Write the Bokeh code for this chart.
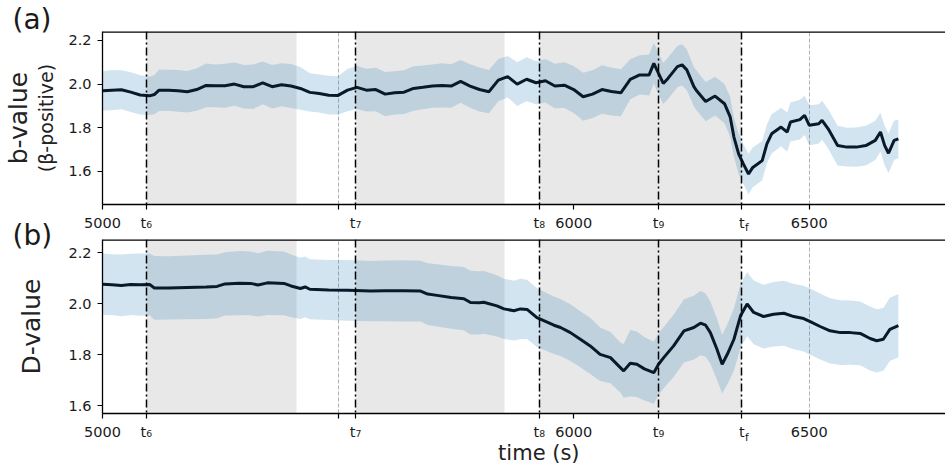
import math
from bokeh.plotting import figure
from bokeh.models import (FixedTicker, Label, Range1d, PrintfTickFormatter, Title)
from bokeh.layouts import column
from bokeh.embed import file_html
from bokeh.resources import INLINE
from bokeh.core.properties import value

FONT = "DejaVu Sans"

# ---------------- data ----------------
t_b = [5000, 5020, 5040, 5060, 5080, 5100, 5110, 5120, 5140, 5160, 5180, 5200, 5220, 5240,
       5260, 5280, 5300, 5320, 5340, 5360, 5380, 5400, 5420, 5440, 5460, 5480, 5500, 5520,
       5540, 5560, 5580, 5600, 5620, 5640, 5660, 5680, 5700, 5720, 5740, 5760, 5780, 5800,
       5820, 5840, 5860, 5880, 5900, 5920, 5940, 5960, 5980, 6000, 6020, 6040, 6060, 6080,
       6100, 6120, 6140, 6160, 6170, 6180, 6190, 6200, 6220, 6230, 6240, 6255, 6260, 6280,
       6300, 6320, 6332, 6340, 6350, 6360, 6371, 6380, 6400, 6410, 6420, 6440, 6453, 6460,
       6480, 6490, 6500, 6520, 6527, 6540, 6560, 6580, 6600, 6620, 6640, 6651, 6660, 6668,
       6680, 6689]
b_val = [1.969, 1.972, 1.974, 1.963, 1.950, 1.946, 1.952, 1.972, 1.972, 1.969, 1.965, 1.975,
         1.994, 1.992, 1.992, 2.000, 1.988, 1.988, 2.006, 1.988, 1.997, 1.991, 1.980, 1.962,
         1.957, 1.949, 1.948, 1.972, 1.985, 1.972, 1.975, 1.954, 1.960, 1.963, 1.980, 1.985,
         1.991, 1.994, 1.991, 2.012, 1.991, 1.975, 1.965, 2.018, 2.034, 2.000, 2.022, 2.006,
         2.015, 1.991, 1.995, 1.975, 1.942, 1.954, 1.975, 1.966, 1.960, 2.022, 2.042, 2.042,
         2.095, 2.049, 2.003, 2.026, 2.080, 2.088, 2.065, 1.988, 1.972, 1.920, 1.945, 1.910,
         1.850, 1.757, 1.680, 1.634, 1.588, 1.618, 1.649, 1.726, 1.772, 1.803, 1.780, 1.826,
         1.837, 1.857, 1.811, 1.818, 1.834, 1.795, 1.718, 1.711, 1.711, 1.718, 1.742, 1.780,
         1.718, 1.683, 1.742, 1.749]
b_err = [0.090, 0.092, 0.089, 0.091, 0.090, 0.088, 0.090, 0.095, 0.094, 0.096, 0.095, 0.097,
         0.100, 0.098, 0.101, 0.099, 0.100, 0.102, 0.098, 0.100, 0.099, 0.101, 0.098, 0.088,
         0.087, 0.089, 0.088, 0.097, 0.099, 0.098, 0.100, 0.101, 0.099, 0.100, 0.102, 0.100,
         0.099, 0.101, 0.100, 0.098, 0.100, 0.101, 0.099, 0.097, 0.095, 0.100, 0.101, 0.099,
         0.100, 0.102, 0.105, 0.108, 0.110, 0.109, 0.111, 0.110, 0.108, 0.092, 0.090, 0.094,
         0.093, 0.095, 0.094, 0.096, 0.095, 0.094, 0.093, 0.090, 0.091, 0.090, 0.089, 0.090,
         0.091, 0.090, 0.092, 0.091, 0.093, 0.091, 0.090, 0.089, 0.090, 0.088, 0.090, 0.089,
         0.091, 0.090, 0.092, 0.090, 0.089, 0.090, 0.091, 0.089, 0.090, 0.091, 0.090, 0.089,
         0.090, 0.091, 0.090, 0.089]

t_d = [5000, 5020, 5040, 5060, 5080, 5100, 5110, 5140, 5180, 5220, 5243, 5260, 5290, 5314,
       5330, 5350, 5385, 5400, 5420, 5430, 5440, 5480, 5520, 5569, 5600, 5640, 5675, 5690,
       5710, 5740, 5767, 5781, 5800, 5809, 5837, 5852, 5873, 5887, 5901, 5922, 5958, 5972,
       5993, 6014, 6035, 6056, 6078, 6099, 6106, 6120, 6134, 6150, 6170, 6180, 6191, 6212,
       6234, 6255, 6269, 6280, 6290, 6304, 6315, 6326, 6340, 6354, 6368, 6382, 6403, 6424,
       6446, 6467, 6488, 6503, 6523, 6544, 6566, 6587, 6608, 6629, 6643, 6657, 6671, 6689]
d_val = [2.077, 2.075, 2.072, 2.076, 2.075, 2.076, 2.062, 2.062, 2.064, 2.066, 2.068, 2.078,
         2.081, 2.080, 2.074, 2.082, 2.080, 2.070, 2.060, 2.066, 2.057, 2.054, 2.053, 2.050,
         2.051, 2.051, 2.050, 2.038, 2.033, 2.025, 2.020, 2.005, 2.004, 2.006, 1.992, 1.980,
         1.973, 1.980, 1.978, 1.946, 1.916, 1.907, 1.887, 1.861, 1.835, 1.802, 1.789, 1.750,
         1.737, 1.767, 1.763, 1.745, 1.730, 1.763, 1.789, 1.835, 1.894, 1.907, 1.924, 1.916,
         1.887, 1.822, 1.763, 1.802, 1.861, 1.953, 1.999, 1.966, 1.950, 1.959, 1.963, 1.950,
         1.942, 1.929, 1.911, 1.894, 1.887, 1.887, 1.884, 1.864, 1.855, 1.861, 1.900, 1.914]
d_err = [0.120, 0.119, 0.121, 0.120, 0.122, 0.121, 0.125, 0.124, 0.125, 0.126, 0.125, 0.124,
         0.126, 0.125, 0.124, 0.126, 0.125, 0.123, 0.120, 0.119, 0.118, 0.118, 0.119, 0.118,
         0.119, 0.120, 0.119, 0.121, 0.122, 0.123, 0.124, 0.125, 0.124, 0.123, 0.120, 0.118,
         0.117, 0.118, 0.116, 0.115, 0.113, 0.112, 0.111, 0.110, 0.110, 0.105, 0.100, 0.098,
         0.105, 0.130, 0.128, 0.124, 0.122, 0.121, 0.120, 0.122, 0.124, 0.125, 0.126, 0.124,
         0.122, 0.120, 0.115, 0.118, 0.122, 0.125, 0.126, 0.125, 0.125, 0.126, 0.127, 0.128,
         0.129, 0.130, 0.129, 0.128, 0.127, 0.126, 0.125, 0.125, 0.124, 0.123, 0.124, 0.124]

# event times (t6, t7, t8, t9, tf) and shaded windows
t_marks = [5093, 5537, 5927, 6180, 6357]
t_labels = ["t₆", "t₇", "t₈", "t₉", "t"]
tf_sub = "f"
shade_start = [5093, 5537, 5927]
shade_end = [5412, 5854, 6357]

num_ticks = [5000, 5500, 6000, 6500]
num_labels = ["5000", "", "6000", "6500"]

y_ticks = [1.6, 1.8, 2.0, 2.2]

X0, X1 = 5000, 6789
XLABEL_CENTER = 5926          # centre of the original (wider) time axis

LINE_COL = "#0a1929"
BAND_COL = "#1f77b4"
SHADE_COL = "#e8e8e8"
TXT = "#1a1a1a"


def make_panel(t, v, err, y0, y1, frame_h, top, bottom, **kw):
    p = figure(frame_width=843, frame_height=frame_h,
               min_border_left=102, min_border_right=0,
               min_border_top=top, min_border_bottom=bottom,
               x_range=Range1d(X0, X1), y_range=Range1d(y0, y1),
               output_backend="svg", toolbar_location=None,
               outline_line_color=None, **kw)
    lo = [a - e for a, e in zip(v, err)]
    hi = [a + e for a, e in zip(v, err)]
    p.vstrip(x0=shade_start, x1=shade_end, fill_color=SHADE_COL, line_color=None)
    p.varea(x=t, y1=lo, y2=hi, fill_color=BAND_COL, fill_alpha=0.2)
    p.line(t, v, line_color=LINE_COL, line_width=3)
    p.vspan(x=t_marks, line_color="black", line_width=1.5,
            line_dash=value("8 3 2 3"))
    # top edge of the frame (half of it is clipped away by the frame)
    p.hspan(y=[y1], line_color="black", line_width=2.6)

    ax = p.below[0]
    ay = p.left[0]
    ax.ticker = FixedTicker(ticks=sorted(num_ticks + t_marks))
    ov = {k: lab for k, lab in zip(num_ticks, num_labels)}
    ov.update({k: lab for k, lab in zip(t_marks, t_labels)})
    ax.major_label_overrides = ov
    ay.ticker = FixedTicker(ticks=y_ticks)
    ay.formatter = PrintfTickFormatter(format="%.1f")
    for a in (ax, ay):
        a.axis_line_color = "black"
        a.axis_line_width = 1.3
        a.major_tick_line_color = "black"
        a.major_tick_line_width = 1.2
        a.major_tick_out = 5
        a.major_tick_in = 0
        a.minor_tick_line_color = None
        a.major_label_text_font = FONT
        a.major_label_text_font_size = "14.5px"
        a.major_label_text_color = TXT
        a.axis_label_text_font = FONT
        a.axis_label_text_font_style = "normal"
        a.axis_label_text_color = "#222222"
    ax.major_label_standoff = 5
    ay.major_label_standoff = 6

    p.ygrid.visible = False
    p.xgrid.ticker = FixedTicker(ticks=num_ticks)
    p.xgrid.grid_line_color = "#b0b0b0"
    p.xgrid.grid_line_dash = "4 2"
    p.xgrid.grid_line_width = 1
    return p


def sub_f(y0, dy):
    return Label(x=t_marks[-1], y=y0, x_offset=3, y_offset=dy, text=tf_sub,
                 text_font=FONT, text_font_size="10.5px", text_color=TXT,
                 text_align="left", text_baseline="alphabetic")


# ---- panel (a)
ya0, ya1 = 1.448, 2.241
pa = make_panel(t_b, b_val, b_err, ya0, ya1, 173, 36, 45,
                styles={"margin-top": "-5px"})
pa.left[0].axis_label = "(β-positive)"
pa.left[0].axis_label_text_font_size = "19px"
pa.left[0].axis_label_standoff = 8
pa.add_layout(Title(text="b-value", align="center", text_font=FONT,
                    text_font_size="25px", text_font_style="normal",
                    text_color="#222222", standoff=0), "left")
pa.add_layout(Label(x=X0, y=ya1, x_offset=-90, y_offset=12.5, text="(a)",
                    text_font=FONT, text_font_size="28px", text_color=TXT,
                    text_align="left", text_baseline="alphabetic"), "above")
pa.add_layout(sub_f(ya0, -22), "below")

# ---- panel (b)
yb0, yb1 = 1.570, 2.252
pb = make_panel(t_d, d_val, d_err, yb0, yb1, 174, 36, 60,
                styles={"margin-top": "-46px"})
pb.border_fill_color = None
pb.left[0].axis_label = "D-value"
pb.left[0].axis_label_text_font_size = "25px"
pb.left[0].axis_label_standoff = 19
pb.add_layout(Label(x=X0, y=yb1, x_offset=-90, y_offset=4.5, text="(b)",
                    text_font=FONT, text_font_size="28px", text_color=TXT,
                    text_align="left", text_baseline="alphabetic"), "above")
pb.add_layout(sub_f(yb0, -23), "left")
pb.add_layout(Label(x=XLABEL_CENTER, y=yb0, y_offset=-39, text="time (s)",
                    text_font=FONT, text_font_size="21px", text_color="#222222",
                    text_align="center", text_baseline="alphabetic"), "below")

layout = column(pa, pb, spacing=0)
open("out.html", "w").write(file_html(layout, INLINE))
